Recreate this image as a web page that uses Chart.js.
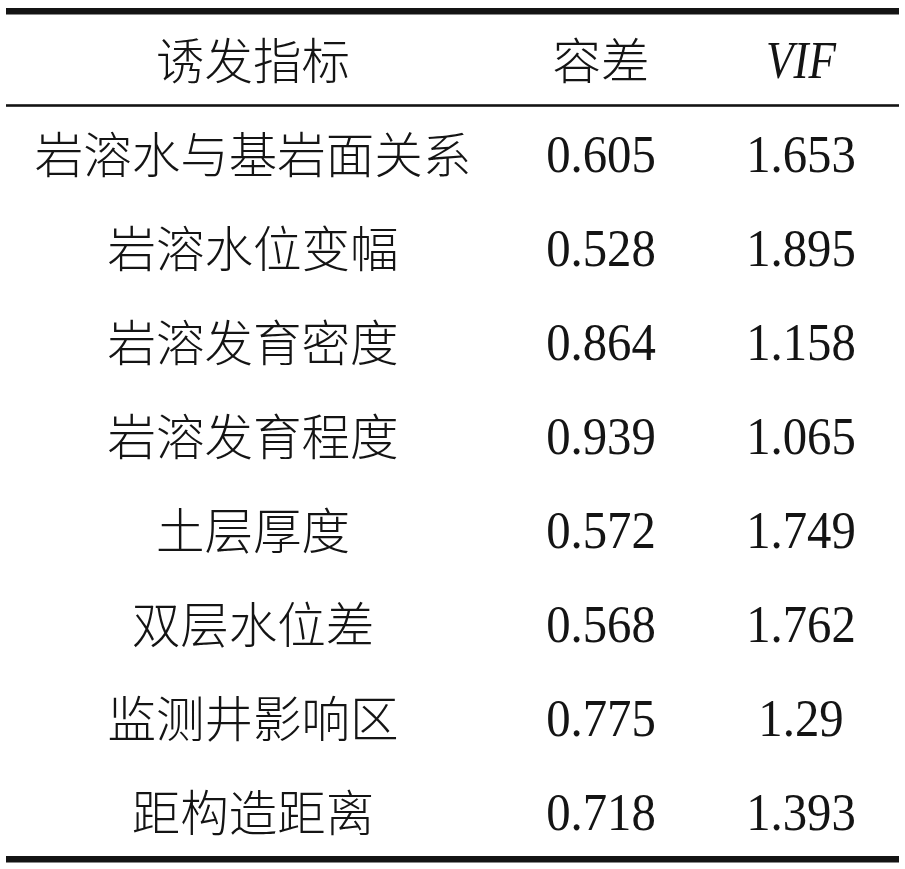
<!DOCTYPE html>
<html>
<head>
<meta charset="utf-8">
<script src="https://cdn.jsdelivr.net/npm/chart.js@4.4.1/dist/chart.umd.min.js"></script>
<style>
html,body{margin:0;padding:0;background:#fff;}
#wrap{width:905px;height:869px;}
</style>
</head>
<body>
<div id="wrap"><canvas id="c" width="905" height="869"></canvas></div>
<script>
// ---- data ----
const headers = ['诱发指标', '容差', 'VIF'];
const indicators = ['岩溶水与基岩面关系', '岩溶水位变幅', '岩溶发育密度', '岩溶发育程度', '土层厚度', '双层水位差', '监测井影响区', '距构造距离'];
const tolerance = ['0.605', '0.528', '0.864', '0.939', '0.572', '0.568', '0.775', '0.718'];
const vif = ['1.653', '1.895', '1.158', '1.065', '1.749', '1.762', '1.29', '1.393'];

// ---- layout (not data) ----
const colCenters = [253, 601, 801];   // x-scale units (0..905)
const CJK = '"Noto Sans CJK SC", sans-serif';
const SERIF = '"Liberation Serif", "Times New Roman", serif';

function cellPoints(col, values) {
  return values.map((v, i) => ({ x: colCenters[col], y: i + 1, text: v }));
}

const datasets = [
  { label: 'header', data: headers.map((h, i) => ({ x: colCenters[i], y: 0, text: h, italic: i === 2 })) },
  { label: 'indicator', data: cellPoints(0, indicators) },
  { label: 'tolerance', data: cellPoints(1, tolerance) },
  { label: 'vif', data: cellPoints(2, vif) }
].map(d => Object.assign(d, { pointRadius: 0, showLine: false }));

const tablePlugin = {
  id: 'tablePlugin',
  afterDatasetsDraw(chart) {
    const ctx = chart.ctx;
    const ys = chart.scales.y;
    const area = chart.chartArea;
    const x0 = 6, x1 = 899;
    ctx.save();
    ctx.fillStyle = '#141414';
    // rules
    const topY = area.top - 3;
    ctx.fillRect(x0, topY - 3, x1 - x0, 6.5);
    const midY = (ys.getPixelForValue(0) + ys.getPixelForValue(1)) / 2 - 2.5;
    ctx.fillRect(x0, midY - 1.3, x1 - x0, 2.6);
    const botY = area.bottom - 1;
    ctx.fillRect(x0, botY - 3, x1 - x0, 6.5);

    // cells
    chart.data.datasets.forEach((ds, di) => {
      const meta = chart.getDatasetMeta(di);
      meta.data.forEach((el, i) => {
        const p = ds.data[i];
        const isNum = /^[0-9.]+$/.test(p.text) || p.italic;
        ctx.textAlign = 'center';
        ctx.textBaseline = 'alphabetic';
        if (isNum) {
          const fs = 53;
          ctx.font = (p.italic ? 'italic ' : '') + fs + 'px ' + SERIF;
          ctx.save();
          ctx.translate(el.x, el.y + 0.33 * fs);
          ctx.scale(p.italic ? 0.85 : 0.92, 1);
          ctx.fillText(p.text, 0, 0);
          ctx.restore();
        } else {
          const fs = 48.5;
          ctx.font = '300 ' + fs + 'px ' + CJK;
          ctx.fillText(p.text, el.x, el.y + 0.38 * fs);
        }
      });
    });
    ctx.restore();
  }
};

new Chart(document.getElementById('c'), {
  type: 'scatter',
  data: { datasets },
  options: {
    responsive: false,
    animation: false,
    devicePixelRatio: 1,
    layout: { padding: { top: 14, bottom: 9, left: 0, right: 0 } },
    plugins: { legend: { display: false }, tooltip: { enabled: false } },
    scales: {
      x: { type: 'linear', min: 0, max: 905, display: false },
      y: { type: 'linear', min: -0.5, max: 8.5, reverse: true, display: false }
    }
  },
  plugins: [tablePlugin]
});
</script>
</body>
</html>
